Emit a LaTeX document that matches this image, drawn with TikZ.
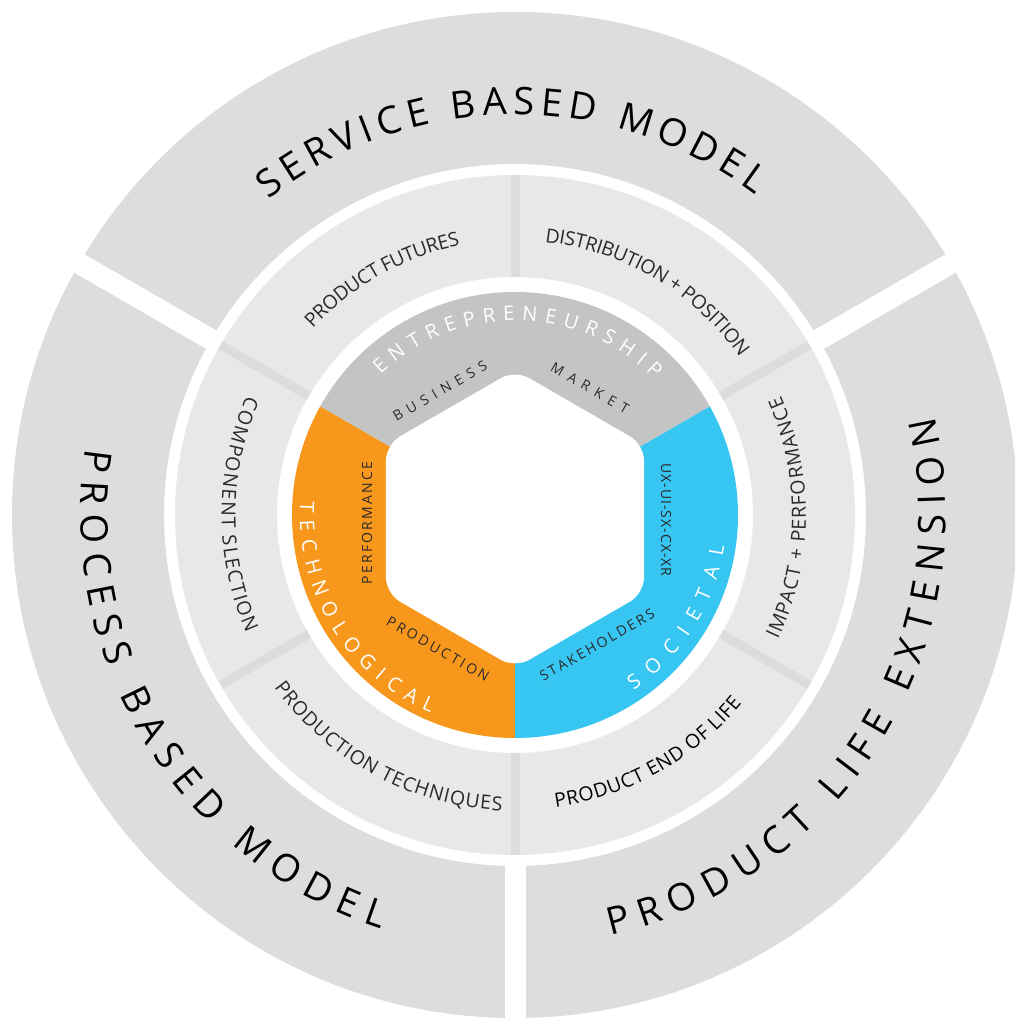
\documentclass[tikz,border=0pt]{standalone}
\usepackage{fontspec}
\newfontfamily\OS{Open Sans}
\definecolor{outerc}{HTML}{DDDDDD}
\definecolor{midc}{HTML}{E8E8E8}
\definecolor{divc}{HTML}{DCDCDC}
\definecolor{grayc}{HTML}{C3C4C4}
\definecolor{orangec}{HTML}{F7981D}
\definecolor{bluec}{HTML}{37C5F2}
\definecolor{txtc}{HTML}{2A2A2A}
\newcommand\FOuter{\OS\fontsize{38}{40}\selectfont}
\newcommand\FMid{\OS\fontsize{19.5}{22}\selectfont}
\newcommand\FWhite{\OS\fontsize{20}{22}\selectfont}
\newcommand\FSmall{\OS\fontsize{14}{16}\selectfont}
\newsavebox\ArcBox
\newcommand\ArcMeasure[2]{\pgfinterruptpicture\global\setbox\ArcBox=\hbox{#1#2}\endpgfinterruptpicture}
% #1 radius of letter centres, #2 centre angle, #3 direction (1 ccw, -1 cw),
% #4 font, #5 tracking, #6 colour, #7 comma list of characters, #8 name prefix
\newcommand\ArcText[8]{%
  \begingroup
  \ArcMeasure{#4}{H}%
  \pgfmathsetmacro\ArcH{\the\ht\ArcBox}%
  \pgfmathsetmacro\ArcBase{#1+(#3)*\ArcH/2}%
  \gdef\ArcTot{0}%
  \foreach \ch in {#7}{%
    \ArcMeasure{#4}{\ch}%
    \pgfmathsetmacro\tmp{\ArcTot+\the\wd\ArcBox+#5}%
    \global\let\ArcTot\tmp
  }%
  \pgfmathsetmacro\ArcStart{#2-(#3)*(\ArcTot-#5)/2/#1*180/pi}%
  \gdef\ArcCum{0}%
  \foreach \ch [count=\ci] in {#7}{%
    \ArcMeasure{#4}{\ch}%
    \pgfmathsetmacro\ArcW{\the\wd\ArcBox}%
    \pgfmathsetmacro\ArcAng{\ArcStart+(#3)*(\ArcCum+\ArcW/2)/#1*180/pi}%
    \node[font=#4,text=#6,anchor=base,inner sep=0pt,outer sep=0pt,rotate=\ArcAng+(#3)*90] (#8-\ci) at (\ArcAng:\ArcBase) {\ch};
    \pgfmathsetmacro\tmp{\ArcCum+\ArcW+#5}%
    \global\let\ArcCum\tmp
  }%
  \endgroup
}
\newcommand\Track[2]{\foreach [count=\ti] \ch in {#2}{\ifnum\ti>1 \kern#1\relax\fi\ch}}
\begin{document}
\begin{tikzpicture}[x=1pt,y=1pt,
  small/.style={font=\FSmall,text=txtc,inner sep=0pt,outer sep=0pt,anchor=center},
  gapline/.style={white,line width=21pt},
  divline/.style={divc,line width=9pt}]
\useasboundingbox (-515,-504) rectangle (500,515);
\clip (-515,-504) rectangle (500,515);
\fill[white] (-515,-504) rectangle (500,515);
% outer ring
\fill[outerc,even odd rule] (0,0) circle (503) (0,0) circle (351);
\foreach \a in {30,150,270}{\draw[gapline] (\a:344) -- (\a:530);}
% middle ring
\fill[midc,even odd rule] (0,0) circle (340) (0,0) circle (238);
\foreach \a in {90,30,-30,-90,-150,150}{\draw[divline] (\a:238) -- (\a:340);}
% inner coloured ring
\begin{scope}
\clip (0,0) circle (223);
\fill[grayc,shift={(0,-4)}] (0,0) -- (30:450) -- (90:450) -- (150:450) -- cycle;
\fill[orangec,shift={(0,-4)}] (0,0) -- (150:450) -- (210:450) -- (270:450) -- cycle;
\fill[bluec,shift={(0,-4)}] (0,0) -- (270:450) -- (330:450) -- (30:450) -- cycle;
\end{scope}
\fill[white,shift={(0,-4)},rounded corners=16pt] (90:149) -- (30:149) -- (-30:149) -- (-90:149) -- (-150:149) -- (150:149) -- cycle;
% outer texts
\ArcText{414}{90.5}{-1}{\FOuter}{7}{black}{S,E,R,V,I,C,E,\ ,B,A,S,E,D,\ ,M,O,D,E,L}{svc}
\ArcText{421}{211.6}{1}{\FOuter}{9}{black}{P,R,O,C,E,S,S,\ ,B,A,S,E,D,\ ,M,O,D,E,L}{pbm}
\ArcText{417.5}{328}{1}{\FOuter}{9}{black}{P,R,O,D,U,C,T,\ ,L,I,F,E,\ ,E,X,T,E,N,S,I,O,N}{ple}
% middle texts
\ArcText{282}{119.4}{-1}{\FMid}{-0.2}{txtc}{P,R,O,D,U,C,T,\ ,F,U,T,U,R,E,S}{pfu}
\ArcText{281.5}{59.4}{-1}{\FMid}{-0.15}{txtc}{D,I,S,T,R,I,B,U,T,I,O,N,\ ,+,\ ,P,O,S,I,T,I,O,N}{dis}
\ArcText{284}{-0.6}{1}{\FMid}{0.75}{txtc}{I,M,P,A,C,T,\ ,+,\ ,P,E,R,F,O,R,M,A,N,C,E}{imp}
\ArcText{288}{299.1}{1}{\FMid}{0.33}{black}{P,R,O,D,U,C,T,\ ,E,N,D,\ ,O,F,\ ,L,I,F,E}{eol}
\ArcText{289}{241.5}{1}{\FMid}{0.6}{txtc}{P,R,O,D,U,C,T,I,O,N,\ ,T,E,C,H,N,I,Q,U,E,S}{ptq}
\ArcText{286.5}{179.9}{1}{\FMid}{1.2}{txtc}{C,O,M,P,O,N,E,N,T,\ ,S,L,E,C,T,I,O,N}{cmp}
% inner white texts
\ArcText{201.5}{89}{-1}{\FWhite}{8.1}{white}{E,N,T,R,E,P,R,E,N,E,U,R,S,H,I,P}{ent}
\ArcText{208}{211.6}{1}{\FWhite}{7.9}{white}{T,E,C,H,N,O,L,O,G,I,C,A,L}{tec}
\ArcText{204.5}{327.8}{1}{\FWhite}{11.4}{white}{S,O,C,I,E,T,A,L}{soc}
% small straight texts
\node[small,rotate=30] (business) at (-75,124) {\Track{5.9pt}{B,U,S,I,N,E,S,S}};
\node[small,rotate=-30] (market) at (75,127) {\Track{6.6pt}{M,A,R,K,E,T}};
\node[small,rotate=90] (perf) at (-148,-8) {\Track{2.2pt}{P,E,R,F,O,R,M,A,N,C,E}};
\node[small,rotate=-90] (uxui) at (151,-5) {\Track{1pt}{U,X,-,U,I,-,S,X,-,C,X,-,X,R}};
\node[small,rotate=-30] (prod) at (-77,-134) {\Track{2.8pt}{P,R,O,D,U,C,T,I,O,N}};
\node[small,rotate=30] (stake) at (82,-130) {\Track{2.4pt}{S,T,A,K,E,H,O,L,D,E,R,S}};
\end{tikzpicture}
\end{document}
